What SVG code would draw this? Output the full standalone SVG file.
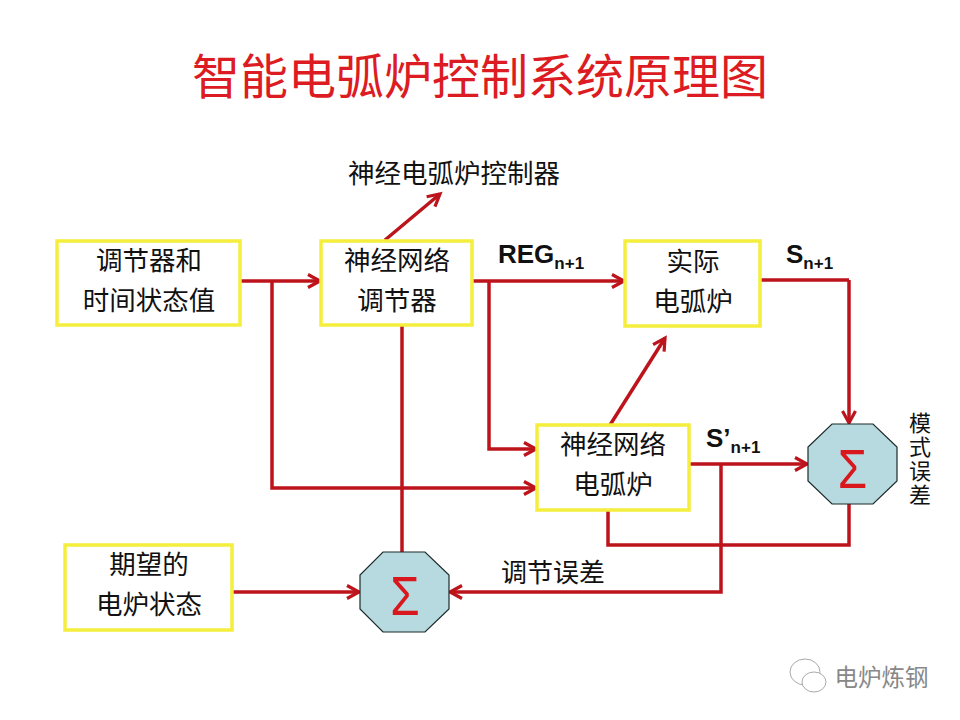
<svg xmlns="http://www.w3.org/2000/svg" width="960" height="720" viewBox="0 0 960 720">
<style>
text{font-family:"Noto Sans CJK SC","Noto Sans CJK JP",sans-serif;fill:#111;text-anchor:middle}
.t{font-size:26.5px}
.b{fill:#fff;stroke:#f5ee3c;stroke-width:3.5}
.o{fill:#b7d9e0;stroke:#1c2a2a;stroke-width:1.2}
.s{font-family:"Liberation Sans",sans-serif;font-size:56px;fill:#d9181e}
.l{font-family:"Liberation Sans",sans-serif;font-weight:bold;font-size:26px;text-anchor:start}
.l tspan{font-size:17px}
.c path{fill:none;stroke:#bd141c;stroke-width:3.5;stroke-linejoin:miter}
.c .a{marker-end:url(#m)}
</style>
<defs>
<marker id="m" markerUnits="userSpaceOnUse" markerWidth="18" markerHeight="18" refX="14" refY="9" orient="auto">
<path d="M2 2.5 L14 9 L2 15.5" fill="none" stroke="#bd141c" stroke-width="3.2"/>
</marker>
</defs>
<rect width="960" height="720" fill="#fff"/>
<text x="480" y="94" style="font-size:48px;fill:#dc1c22">智能电弧炉控制系统原理图</text>
<text x="454" y="183" class="t">神经电弧炉控制器</text>
<g class="c" id="connectors">
<path class="a" d="M385 240 L440 194"/>
<path class="a" d="M240 281 H320"/>
<path class="a" d="M472 281 H624"/>
<path d="M760 280 H849"/>
<path class="a" d="M849 280 V423"/>
<path class="a" d="M272 281 V488 H536"/>
<path class="a" d="M489 281 V449 H536"/>
<path class="a" d="M610 425 L665 338"/>
<path class="a" d="M689 464 H807"/>
<path class="a" d="M721 464 V592 H450"/>
<path d="M608 510 V545 H849 V504"/>
<path d="M402 326 V552"/>
<path class="a" d="M232 592 H359"/>
</g>
<g id="n1"><rect class="b" x="57" y="241" width="183" height="84"/><text x="149" y="270" class="t">调节器和</text><text x="149" y="310" class="t">时间状态值</text></g>
<g id="n2"><rect class="b" x="321" y="241" width="151" height="84"/><text x="397" y="270" class="t">神经网络</text><text x="397" y="310" class="t">调节器</text></g>
<g id="n3"><rect class="b" x="625" y="241" width="135" height="85"/><text x="693" y="271" class="t">实际</text><text x="693" y="311" class="t">电弧炉</text></g>
<g id="n4"><rect class="b" x="537" y="425" width="152" height="85"/><text x="613" y="454" class="t">神经网络</text><text x="613" y="494" class="t">电弧炉</text></g>
<g id="n5"><rect class="b" x="65" y="545" width="167" height="85"/><text x="149" y="574" class="t">期望的</text><text x="149" y="614" class="t">电炉状态</text></g>
<g id="sum1"><polygon class="o" points="832,424 873,424 897,447 897,481 873,504 832,504 808,481 808,447"/><text transform="translate(852.5 488) scale(.85 1)" class="s">Σ</text></g>
<g id="sum2"><polygon class="o" points="383,552 425,552 449,575 449,609 425,632 383,632 360,609 360,575"/><text transform="translate(405 615) scale(.85 1)" class="s">Σ</text></g>
<text x="498" y="263" class="l">REG<tspan dy="6">n+1</tspan></text>
<text x="786" y="263" class="l">S<tspan dy="6">n+1</tspan></text>
<text x="706" y="447" class="l">S’<tspan dy="6">n+1</tspan></text>
<text x="553" y="582" style="font-size:26px">调节误差</text>
<text x="920" y="460" style="font-size:22px;writing-mode:vertical-rl;letter-spacing:2px">模式误差</text>
<g id="watermark" fill="none" stroke="#aaa" stroke-width="1"><ellipse cx="805" cy="672" rx="15" ry="13"/><ellipse cx="814" cy="682" rx="12" ry="10" fill="#fff"/></g>
<text x="881.500" y="686" style="font-size:23.500px;fill:#888">电炉炼钢</text>
</svg>
